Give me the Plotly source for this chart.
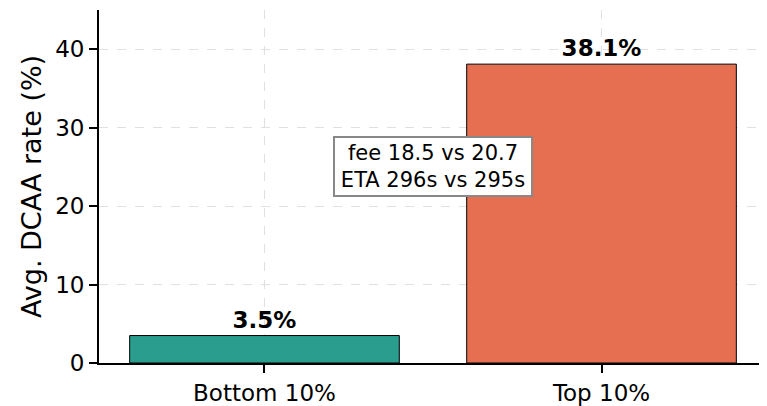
import plotly.graph_objects as go

categories = ["Bottom 10%", "Top 10%"]
rates = [3.5, 38.1]
colors = ["#2a9d8f", "#e76f51"]
labels = ["3.5%", "38.1%"]
note = "fee 18.5 vs 20.7<br>ETA 296s vs 295s"

xs = list(range(len(categories)))
fig = go.Figure()
fig.add_trace(go.Bar(
    x=xs, y=rates, width=0.8,
    marker=dict(color=colors, line=dict(color="black", width=1)),
    text=labels, textposition="outside",
    textfont=dict(family="DejaVu Sans", size=23, color="black", weight="bold"),
    cliponaxis=False, showlegend=False,
))
fig.add_annotation(
    x=0.5, y=25, xref="x", yref="y", text=note, showarrow=False,
    font=dict(family="DejaVu Sans", size=21, color="black"),
    bgcolor="white", bordercolor="#888888", borderwidth=2, borderpad=3,
    width=190,
)
# page body has an 8px margin, so the figure is sized to the visible area
fig.update_layout(
    width=759, height=398,
    margin=dict(l=91, r=0, t=2, b=40),
    paper_bgcolor="white", plot_bgcolor="white",
    font=dict(family="DejaVu Sans", size=24, color="black"),
    bargap=0.2,
)
fig.update_xaxes(
    range=[-0.491, 1.491], tickvals=xs, ticktext=categories,
    showline=True, linecolor="black", linewidth=1.8,
    ticks="outside", ticklen=8, tickwidth=1.5, tickcolor="black",
    showgrid=True, gridcolor="#e0e0e0", griddash="dash", gridwidth=1,
    zeroline=False, tickfont=dict(size=23),
)
fig.update_yaxes(
    range=[0, 45], tickvals=[0, 10, 20, 30, 40],
    title=dict(text="Avg. DCAA rate (%)", font=dict(size=27), standoff=6),
    showline=True, linecolor="black", linewidth=1.8,
    ticks="outside", ticklen=8, tickwidth=1.5, tickcolor="black",
    showgrid=True, gridcolor="#e0e0e0", griddash="dash", gridwidth=1,
    zeroline=False, tickfont=dict(size=23),
)
fig.write_html("out.html")
